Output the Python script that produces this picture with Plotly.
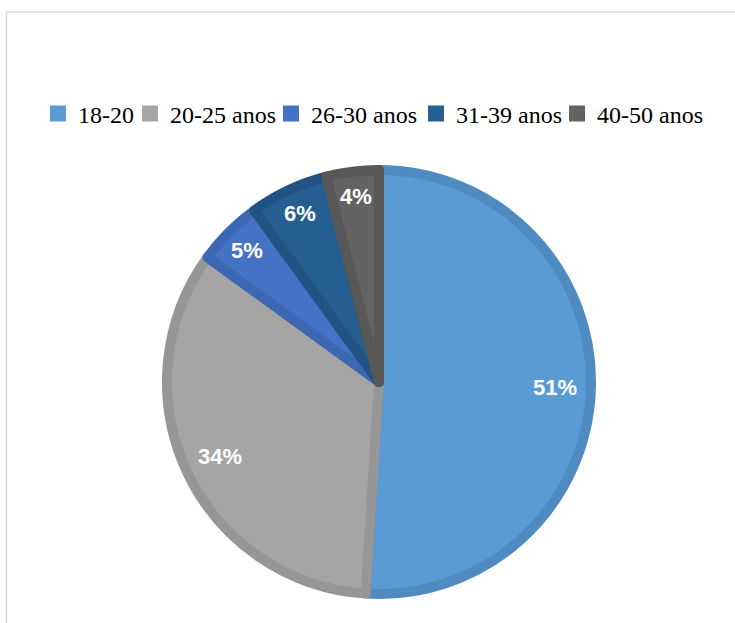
import math
import plotly.graph_objects as go

labels = ["18-20", "20-25 anos", "26-30 anos", "31-39 anos", "40-50 anos"]
values = [51, 34, 5, 6, 4]
fill_colors = ["#5B9BD5", "#A5A5A5", "#4472C4", "#255E91", "#636363"]
edge_colors = ["#4F8AC0", "#969696", "#3D67B2", "#215483", "#585858"]
legend_widths = [47, 96, 100, 96, 110]

W, H = 735, 623
cx, cy, r = 379, 382, 212
r_outer = r + 5

fig = go.Figure()
fig.add_trace(go.Pie(
    labels=labels,
    values=values,
    sort=False,
    direction="clockwise",
    rotation=0,
    marker=dict(colors=fill_colors, line=dict(color=edge_colors, width=10)),
    textinfo="none",
    domain=dict(x=[(cx - r) / W, (cx + r) / W], y=[(H - cy - r) / H, (H - cy + r) / H]),
    hoverinfo="label+percent",
    showlegend=False,
))

# legend entries
for lab, col, lw in zip(labels, fill_colors, legend_widths):
    fig.add_trace(go.Scatter(
        x=[None], y=[None], mode="markers", name=lab,
        marker=dict(symbol="square", size=16, color=col, line=dict(width=0)),
        legendwidth=lw, showlegend=True, hoverinfo="skip",
    ))

# percent labels placed along each slice's mid-angle
total = sum(values)
annotations = []
cum = 0
for v in values:
    mid = (cum + v / 2) / total * 2 * math.pi
    cum += v
    rf = 0.81 if v / total >= 0.10 else 0.86
    px = cx + rf * r_outer * math.sin(mid)
    py = cy - rf * r_outer * math.cos(mid)
    annotations.append(dict(
        x=px / W, y=1 - py / H, xref="paper", yref="paper",
        text=f"{round(v / total * 100)}%", showarrow=False,
        xanchor="center", yanchor="middle",
        font=dict(family="Liberation Sans, Arial", size=22, color="white", weight="bold"),
    ))

fig.update_layout(
    width=W, height=H,
    margin=dict(l=0, r=0, t=0, b=0),
    paper_bgcolor="white",
    plot_bgcolor="white",
    xaxis=dict(visible=False),
    yaxis=dict(visible=False),
    showlegend=True,
    legend=dict(
        orientation="h",
        x=38 / W, xanchor="left",
        y=1 - 114 / H, yanchor="middle",
        font=dict(family="Liberation Serif, Times New Roman", size=24, color="#000000"),
        itemwidth=30,
        traceorder="normal",
        bgcolor="rgba(0,0,0,0)",
    ),
    annotations=annotations,
    shapes=[
        dict(type="line", xref="paper", yref="paper", x0=6.5 / W, x1=1, y0=1 - 12 / H, y1=1 - 12 / H,
             line=dict(color="#D9D9D9", width=1.5)),
        dict(type="line", xref="paper", yref="paper", x0=6.5 / W, x1=6.5 / W, y0=0, y1=1 - 12 / H,
             line=dict(color="#D9D9D9", width=1.5)),
    ],
)

fig.write_html("out.html")
